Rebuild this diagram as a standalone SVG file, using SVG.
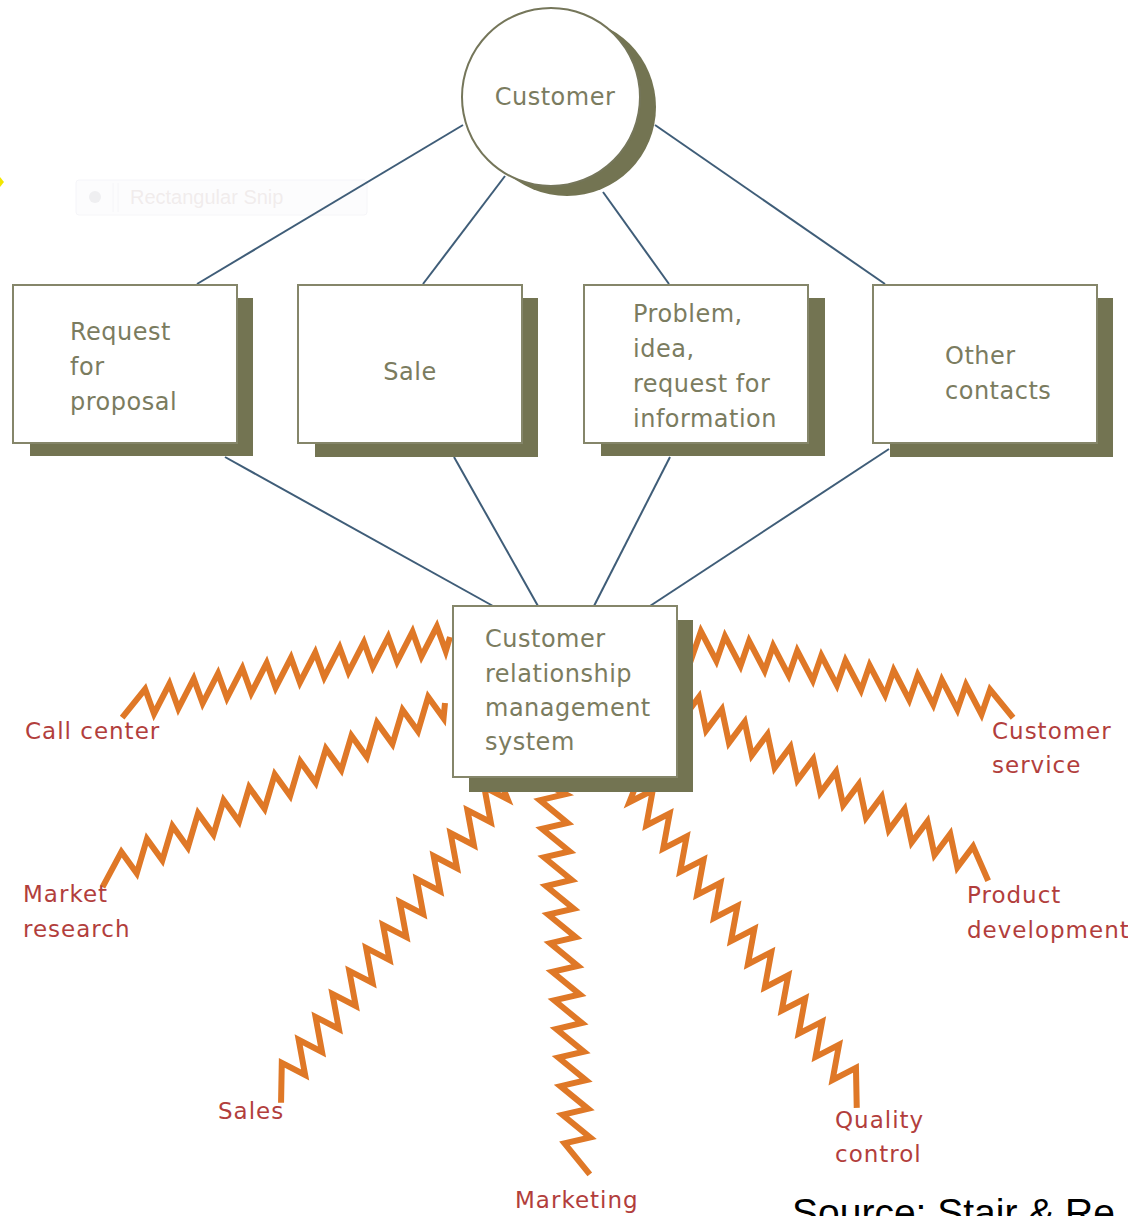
<svg xmlns="http://www.w3.org/2000/svg" width="1128" height="1216" viewBox="0 0 1128 1216">
  <style>
    .shadow { fill: #737452; }
    .frame { fill: #ffffff; stroke: #85866a; stroke-width: 2; }
    .ring { fill: #ffffff; stroke: #75765a; stroke-width: 2; }
    .node-text { font-family: "DejaVu Sans", "Liberation Sans", sans-serif; font-size: 24px; letter-spacing: 0.5px; fill: #7b7c5f; }
    .dept { font-family: "DejaVu Sans", "Liberation Sans", sans-serif; font-size: 23px; letter-spacing: 1px; fill: #b23e3c; }
    .link { stroke: #3f5d78; stroke-width: 2; fill: none; }
    .bolt { fill: none; stroke: #df7827; stroke-width: 6; stroke-linejoin: miter; stroke-miterlimit: 12; }
  </style>
  <defs>
    <!-- lightning sawtooth laid along the x axis, 380 units long: near-perpendicular short stroke, long slanted stroke -->
    <path id="bolt" class="bolt" vector-effect="non-scaling-stroke"
      d="M0,0 L8,-13 L12,13 L36,-13 L40,13 L64,-13 L68,13 L92,-13 L96,13 L120,-13 L124,13 L148,-13 L152,13 L176,-13 L180,13 L204,-13 L208,13 L232,-13 L236,13 L260,-13 L264,13 L288,-13 L292,13 L316,-13 L320,13 L344,-13 L348,13 L380,-10"/>
  </defs>

  <rect width="1128" height="1216" fill="#ffffff"/>

  <!-- faint screen-capture toolbar remnant -->
  <g id="snip-toolbar" opacity="0.55">
    <rect x="76" y="180" width="291" height="35" rx="3" fill="#fbfbfd" stroke="#eeeef4" stroke-width="1"/>
    <circle cx="95" cy="197" r="6" fill="#e2e2e6"/>
    <line x1="113" y1="183" x2="113" y2="212" stroke="#eeeef2" stroke-width="1"/>
    <line x1="118" y1="183" x2="118" y2="212" stroke="#eeeef2" stroke-width="1"/>
    <text x="130" y="204" font-family="Liberation Sans, Arial, sans-serif" font-size="20" fill="#e6dede">Rectangular Snip</text>
  </g>
  <polygon points="0,177 4,182 0,187" fill="#f2e600"/>

  <g id="connectors">
    <line class="link" x1="463" y1="125" x2="197" y2="284"/>
    <line class="link" x1="505" y1="176" x2="423" y2="284"/>
    <line class="link" x1="603" y1="192" x2="669" y2="284"/>
    <line class="link" x1="655" y1="125" x2="885" y2="284"/>
    <line class="link" x1="225" y1="457" x2="493" y2="606"/>
    <line class="link" x1="454" y1="457" x2="538" y2="606"/>
    <line class="link" x1="670" y1="457" x2="594" y2="606"/>
    <line class="link" x1="889" y1="449" x2="650" y2="606"/>

    <!-- left-hand bolts -->
    <use href="#bolt" transform="translate(450,637) rotate(167.9) scale(0.888,1)"/>
    <use href="#bolt" transform="translate(445,703) rotate(153.2) scale(1.023,1)"/>
    <use href="#bolt" transform="translate(502,785) rotate(126.3) scale(1.018,1)"/>
    <use href="#bolt" transform="translate(552,787) rotate(85.9) scale(1.024,1)"/>
    <!-- right-hand bolts, mirrored -->
    <use href="#bolt" transform="translate(635,788) rotate(53.8) scale(1.024,-1)"/>
    <use href="#bolt" transform="translate(683,703) rotate(28.6) scale(0.929,-1)"/>
    <use href="#bolt" transform="translate(688,642) rotate(11.4) scale(0.878,-1)"/>
  </g>

  <g id="customer">
    <circle class="shadow" cx="567" cy="107" r="89"/>
    <circle class="ring" cx="551" cy="97" r="89"/>
    <text class="node-text" x="555" y="105" text-anchor="middle">Customer</text>
  </g>

  <g id="request-for-proposal">
    <rect class="shadow" x="30" y="298" width="223" height="158"/>
    <rect class="frame" x="13" y="285" width="224" height="158"/>
    <text class="node-text" x="70" y="340">Request</text>
    <text class="node-text" x="70" y="375">for</text>
    <text class="node-text" x="70" y="410">proposal</text>
  </g>

  <g id="sale">
    <rect class="shadow" x="315" y="298" width="223" height="159"/>
    <rect class="frame" x="298" y="285" width="224" height="158"/>
    <text class="node-text" x="410" y="380" text-anchor="middle">Sale</text>
  </g>

  <g id="problem-idea-request">
    <rect class="shadow" x="601" y="298" width="224" height="158"/>
    <rect class="frame" x="584" y="285" width="224" height="158"/>
    <text class="node-text" x="633" y="322">Problem,</text>
    <text class="node-text" x="633" y="357">idea,</text>
    <text class="node-text" x="633" y="392">request for</text>
    <text class="node-text" x="633" y="427">information</text>
  </g>

  <g id="other-contacts">
    <rect class="shadow" x="890" y="298" width="223" height="159"/>
    <rect class="frame" x="873" y="285" width="224" height="158"/>
    <text class="node-text" x="945" y="364">Other</text>
    <text class="node-text" x="945" y="399">contacts</text>
  </g>

  <g id="crm-system">
    <rect class="shadow" x="469" y="620" width="224" height="172"/>
    <rect class="frame" x="453" y="606" width="224" height="171"/>
    <text class="node-text" x="485" y="647">Customer</text>
    <text class="node-text" x="485" y="682">relationship</text>
    <text class="node-text" x="485" y="716">management</text>
    <text class="node-text" x="485" y="750">system</text>
  </g>

  <g id="call-center"><text class="dept" x="25" y="739">Call center</text></g>
  <g id="market-research">
    <text class="dept" x="23" y="902">Market</text>
    <text class="dept" x="23" y="937">research</text>
  </g>
  <g id="sales"><text class="dept" x="218" y="1119">Sales</text></g>
  <g id="marketing"><text class="dept" x="515" y="1208">Marketing</text></g>
  <g id="quality-control">
    <text class="dept" x="835" y="1128">Quality</text>
    <text class="dept" x="835" y="1162">control</text>
  </g>
  <g id="product-development">
    <text class="dept" x="967" y="903">Product</text>
    <text class="dept" x="967" y="938">development</text>
  </g>
  <g id="customer-service">
    <text class="dept" x="992" y="739">Customer</text>
    <text class="dept" x="992" y="773">service</text>
  </g>

  <text x="792" y="1226" font-family="Liberation Sans, Arial, sans-serif" font-size="39" fill="#000000">Source: Stair &amp; Re</text>
</svg>
